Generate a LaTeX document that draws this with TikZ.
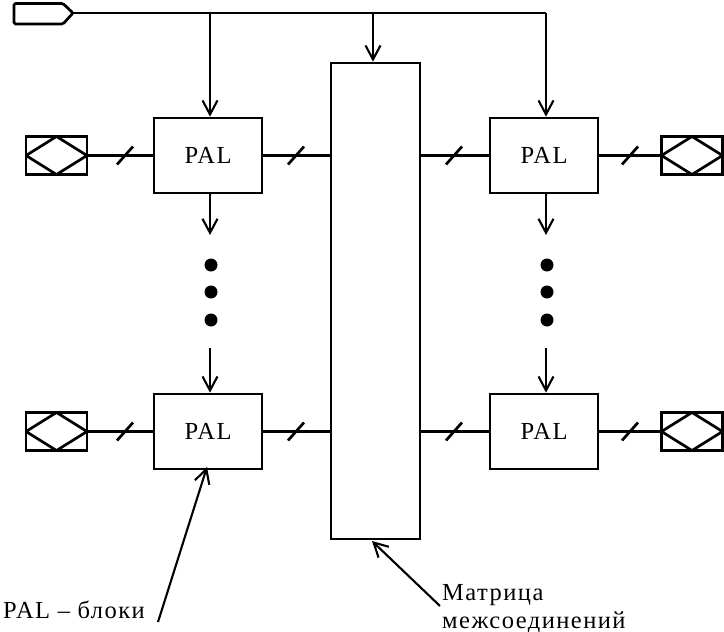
\documentclass[tikz,border=0pt]{standalone}
\usepackage{fontspec}
\setmainfont{Liberation Serif}
\newfontfamily\lblfont[LetterSpace=6]{Liberation Serif}
\usetikzlibrary{arrows.meta}
\begin{document}
\begin{tikzpicture}[x=1pt,y=-1pt,
  thick line/.style={line width=2.7pt},
  palbox/.style={draw,thick line,minimum width=108pt,minimum height=75pt,inner sep=0pt,font=\fontsize{24.5}{28}\lblfont},
  matrixbox/.style={draw,thick line,minimum width=89pt,minimum height=476pt,inner sep=0pt},
  pinbox/.style={draw,thick line,minimum width=61pt,minimum height=38pt,inner sep=0pt,
    path picture={\draw[thick line] (path picture bounding box.west) -- (path picture bounding box.north) -- (path picture bounding box.east) -- (path picture bounding box.south) -- cycle;}},
  arr/.style={line width=2.1pt,-{Straight Barb[length=14pt,width=15pt,line width=2.1pt]}},
  slashmark/.pic={\draw[thick line] (-8,9) -- (8,-9);},
  dotmark/.style={fill=black,circle,inner sep=0pt,minimum size=13pt},
  lbl/.style={font=\fontsize{24.5}{28}\lblfont,inner sep=0pt}
]
\useasboundingbox (0,0) rectangle (724,632);
% blocks
\node[palbox] (pal1) at (208,155.5) {PAL};
\node[palbox] (pal2) at (208,431.5) {PAL};
\node[palbox] (pal3) at (544,155.5) {PAL};
\node[palbox] (pal4) at (544,431.5) {PAL};
\node[matrixbox] (mtx) at (375.5,301) {};
% pins
\node[pinbox] (pin1) at (56.5,155.5) {};
\node[pinbox] (pin2) at (56.5,431.5) {};
\node[pinbox] (pin3) at (692,155.5) {};
\node[pinbox] (pin4) at (692,431.5) {};
% input pin
\draw[thick line,rounded corners=1.5pt] (14,3.5) -- (63,3.5) -- (73,13) -- (63,24) -- (14,24) -- cycle;
\coordinate (inp) at (73,13);
\coordinate (t1) at (210,13);
\coordinate (t2) at (373,13);
\coordinate (t3) at (546,13);
\draw[thick line] (inp) -- (t1) -- (t2) -- (t3);
\draw[arr] (t1) -- (t1 |- pal1.north);
\draw[arr] (t2) -- (t2 |- mtx.north);
\draw[arr] (t3) -- (t3 |- pal3.north);
% row connections
\draw[thick line] (pin1) -- (pal1);
\draw[thick line] (pal1) -- (pal1 -| mtx.west);
\draw[thick line] (pal3 -| mtx.east) -- (pal3);
\draw[thick line] (pal3) -- (pin3);
\draw[thick line] (pin2) -- (pal2);
\draw[thick line] (pal2) -- (pal2 -| mtx.west);
\draw[thick line] (pal4 -| mtx.east) -- (pal4);
\draw[thick line] (pal4) -- (pin4);
\pic at (125,155.5) {slashmark};
\pic at (296,155.5) {slashmark};
\pic at (454,155.5) {slashmark};
\pic at (630,155.5) {slashmark};
\pic at (125,431.5) {slashmark};
\pic at (296,431.5) {slashmark};
\pic at (454,431.5) {slashmark};
\pic at (630,431.5) {slashmark};
% vertical chains
\coordinate (a1) at (210,235);
\coordinate (a2) at (210,348);
\coordinate (b1) at (546,235);
\coordinate (b2) at (546,348);
\draw[arr] (a1 |- pal1.south) -- (a1);
\draw[arr] (a2) -- (a2 |- pal2.north);
\draw[arr] (b1 |- pal3.south) -- (b1);
\draw[arr] (b2) -- (b2 |- pal4.north);
\node[dotmark] (d1) at (211,265) {};
\node[dotmark] (d2) at (211,292) {};
\node[dotmark] (d3) at (211,320) {};
\node[dotmark] (d4) at (547,265) {};
\node[dotmark] (d5) at (547,292) {};
\node[dotmark] (d6) at (547,320) {};
% labels
\node[lbl,anchor=base west] (lab1) at (3,618) {PAL – блоки};
\node[lbl,anchor=base west,align=left] (lab2) at (442,628) {Матрица\\межсоединений};
\coordinate (l1) at (158,622);
\coordinate (l2) at (440,606);
\draw[arr] (l1) -- (207,467);
\draw[arr] (l2) -- (372,541);
\end{tikzpicture}
\end{document}
